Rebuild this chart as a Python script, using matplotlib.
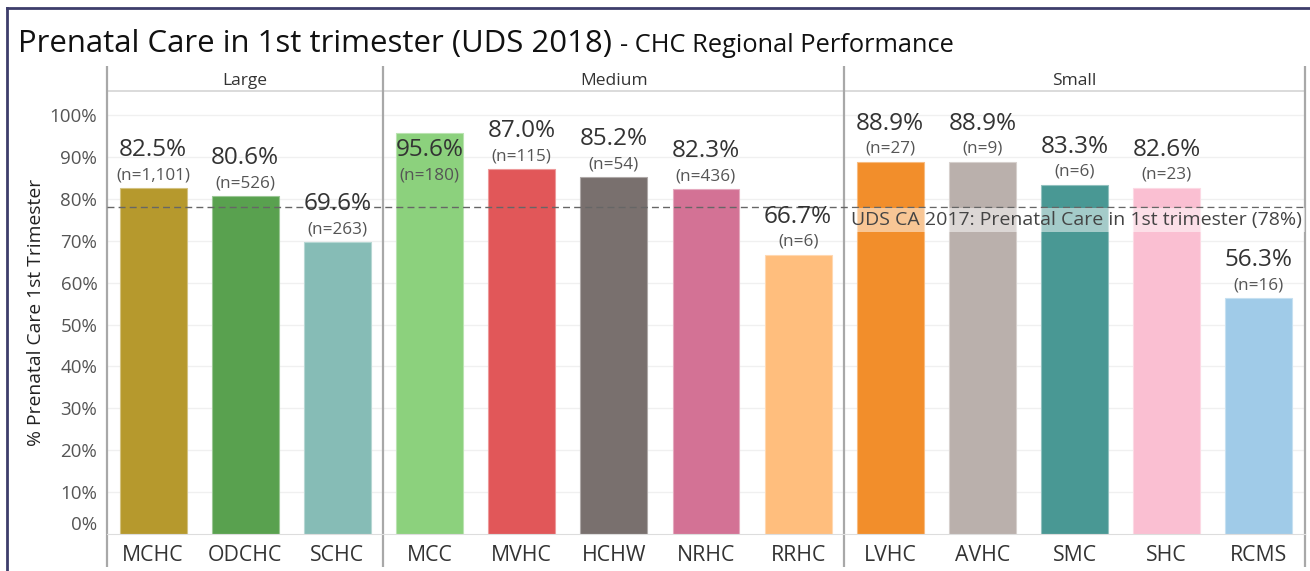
import matplotlib
matplotlib.use("Agg")
import matplotlib.pyplot as plt
from matplotlib.transforms import blended_transform_factory
from matplotlib.lines import Line2D
import matplotlib.colors as mcolors

# ---- data ----
groups = ["Large", "Medium", "Small"]
group_sizes = [3, 5, 5]
centers = ["MCHC", "ODCHC", "SCHC", "MCC", "MVHC", "HCHW", "NRHC", "RRHC",
           "LVHC", "AVHC", "SMC", "SHC", "RCMS"]
values = [82.5, 80.6, 69.6, 95.6, 87.0, 85.2, 82.3, 66.7, 88.9, 88.9, 83.3, 82.6, 56.3]
n_counts = ["1,101", "526", "263", "180", "115", "54", "436", "6", "27", "9", "6", "23", "16"]
colors = ["#B6992D", "#59A14F", "#86BCB6", "#8CD17D", "#E15759", "#79706E", "#D37295",
          "#FFBE7D", "#F28E2B", "#BAB0AC", "#499894", "#FABFD2", "#A0CBE8"]
ref_value = 78
ref_label = "UDS CA 2017: Prenatal Care in 1st trimester (78%)"
yticks = [0, 10, 20, 30, 40, 50, 60, 70, 80, 90, 100]

FONT = "Open Sans"
plt.rcParams["font.family"] = [FONT, "DejaVu Sans"]

W, H = 1310, 571
fig = plt.figure(figsize=(W / 100, H / 100), dpi=100)

ax_l, ax_r, ax_top, ax_bot = 107, 1305, 91, 534
ax = fig.add_axes([ax_l / W, 1 - ax_bot / H, (ax_r - ax_l) / W, (ax_bot - ax_top) / H])
ymax = (ax_bot - ax_top) / 4.19
ax.set_ylim(0, ymax)
ax.set_xlim(-0.5, len(centers) - 0.5)
px = 1.0 / (ax_bot - ax_top)  # axes fraction per pixel (vertical)

# gridlines
for t in yticks[1:]:
    ax.axhline(t, color="#f0f0f0", lw=1, zorder=0)

x = list(range(len(centers)))
edge = [mcolors.to_hex([0.6 * c + 0.4 for c in mcolors.to_rgb(col)]) for col in colors]
ax.bar(x, values, width=0.727, color=colors, edgecolor=edge, linewidth=0.8, zorder=2)

# value labels
for xi, v, n in zip(x, values, n_counts):
    if v > 92:
        off_p, off_n = -17, -42
    else:
        off_p, off_n = 38, 13
    ax.annotate(f"{v:.1f}%", (xi, v), xytext=(0, off_p * 0.72), textcoords="offset points",
                ha="center", va="center", fontsize=17.5, color="#333333", zorder=4)
    ax.annotate(f"(n={n})", (xi, v), xytext=(0, off_n * 0.72), textcoords="offset points",
                ha="center", va="center", fontsize=12.3, color="#555555", zorder=4)

# reference line
ax.axhline(ref_value, color="#666666", lw=1.0, ls=(0, (5, 3)), zorder=3)
tb = blended_transform_factory(ax.transAxes, ax.transData)
ax.text(0.9975, ref_value - 13 / 4.19, ref_label, transform=tb, ha="right", va="center",
        fontsize=14, color="#444444", zorder=5,
        bbox=dict(facecolor="white", alpha=0.5, edgecolor="none", pad=2))

# axes styling
for s in ["top", "right", "left"]:
    ax.spines[s].set_visible(False)
ax.spines["bottom"].set_color("#dddddd")
ax.set_yticks(yticks)
ax.set_yticklabels([f"{t}%" for t in yticks], fontsize=13.5, color="#555555")
ax.tick_params(axis="y", length=0, pad=7)
ax.yaxis.get_major_ticks()[0].label1.set_va("bottom")
ax.set_xticks(x)
ax.set_xticklabels(centers, fontsize=15.3, color="#333333")
ax.tick_params(axis="x", length=0, pad=8)
ax.set_ylabel("% Prenatal Care 1st Trimester", fontsize=13.9, color="#222222")
ax.yaxis.set_label_coords(-(107 - 45) / (ax_r - ax_l), 0.5)

# header row & panel separators
bt = blended_transform_factory(ax.transData, ax.transAxes)
top_ext = 1 + (ax_top - 66) * px
bot_ext = -(567 - ax_bot) * px
ax.plot([-0.5, len(centers) - 0.5], [1, 1], transform=bt, color="#d4d4d4", lw=1.2, clip_on=False)
start = -0.5
bounds = [start]
for g, size in zip(groups, group_sizes):
    mid = start + size / 2
    ax.text(mid, 1 + (ax_top - 81) * px, g, transform=bt, ha="center", va="center",
            fontsize=12.5, color="#333333")
    start += size
    bounds.append(start)
for b in bounds:
    ax.plot([b, b], [bot_ext, top_ext], transform=bt, color="#a8a8a8", lw=1.6,
            clip_on=False, solid_capstyle="butt")

# outer frame (top & left)
fig.add_artist(Line2D([7 / W, 1], [1 - 8 / H, 1 - 8 / H], transform=fig.transFigure,
                      color="#3d3d6b", lw=2))
fig.add_artist(Line2D([7 / W, 7 / W], [0, 1 - 8 / H], transform=fig.transFigure,
                      color="#3d3d6b", lw=2))

# title
title = fig.text(18 / W, 1 - 52 / H, "Prenatal Care in 1st trimester (UDS 2018)",
                 fontsize=22.4, color="#111111", va="baseline", ha="left")
fig.canvas.draw()
bb = title.get_window_extent()
fig.text((bb.x1 + 8) / W, 1 - 52 / H, "- CHC Regional Performance", fontsize=18.3,
         fontweight="medium", color="#111111", va="baseline", ha="left")

fig.savefig("out.png", dpi=100)
